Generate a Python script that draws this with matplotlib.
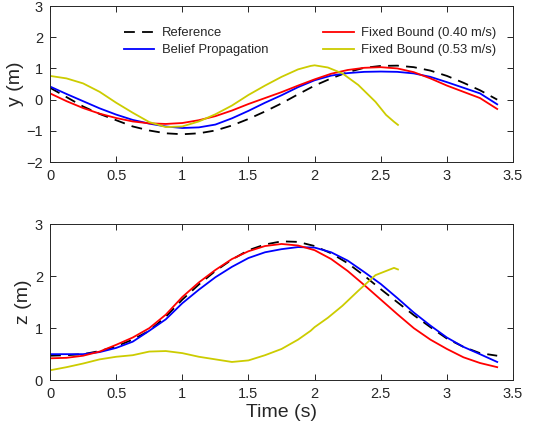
import matplotlib
matplotlib.use("Agg")
import matplotlib.pyplot as plt

plt.rcParams["font.family"] = ["Liberation Sans", "DejaVu Sans"]

# ── Data ──────────────────────────────────────────────────────────────────────
t_ref = [0, 0.125, 0.25, 0.375, 0.5, 0.625, 0.75, 0.875, 1.0, 1.125, 1.25, 1.375, 1.5, 1.625,
         1.75, 1.875, 2.0, 2.125, 2.25, 2.375, 2.5, 2.625, 2.75, 2.875, 3.0, 3.125, 3.25, 3.38]
y_ref = [0.38, 0.08, -0.22, -0.46, -0.66, -0.86, -0.99, -1.08, -1.11, -1.08, -0.99, -0.83, -0.62, -0.38,
         -0.12, 0.17, 0.45, 0.68, 0.88, 1.02, 1.08, 1.09, 1.04, 0.93, 0.76, 0.54, 0.3, 0.0]
z_ref = [0.47, 0.48, 0.5, 0.56, 0.65, 0.78, 0.95, 1.22, 1.55, 1.84, 2.1, 2.32, 2.5, 2.61,
         2.67, 2.66, 2.58, 2.44, 2.25, 2.01, 1.75, 1.5, 1.25, 1.02, 0.8, 0.64, 0.52, 0.47]

t_bp = t_ref
y_bp = [0.42, 0.18, -0.05, -0.28, -0.48, -0.65, -0.77, -0.86, -0.91, -0.89, -0.8, -0.6, -0.36, -0.1,
        0.14, 0.4, 0.62, 0.77, 0.85, 0.89, 0.9, 0.89, 0.84, 0.73, 0.56, 0.38, 0.2, -0.15]
z_bp = [0.5, 0.5, 0.5, 0.54, 0.62, 0.74, 0.95, 1.17, 1.48, 1.74, 1.98, 2.18, 2.35, 2.46,
        2.52, 2.56, 2.55, 2.46, 2.3, 2.08, 1.85, 1.58, 1.3, 1.05, 0.82, 0.64, 0.5, 0.35]

t_fb40 = t_ref
y_fb40 = [0.2, -0.05, -0.27, -0.45, -0.59, -0.7, -0.76, -0.78, -0.75, -0.66, -0.53, -0.35, -0.14, 0.05,
          0.24, 0.45, 0.65, 0.83, 0.95, 1.02, 1.04, 1.0, 0.88, 0.68, 0.45, 0.25, 0.05, -0.3]
z_fb40 = [0.42, 0.43, 0.47, 0.55, 0.68, 0.82, 1.0, 1.26, 1.6, 1.88, 2.12, 2.33, 2.48, 2.58,
          2.62, 2.59, 2.5, 2.33, 2.1, 1.83, 1.55, 1.27, 1.0, 0.78, 0.6, 0.44, 0.33, 0.25]

t_fb53 = [0, 0.125, 0.25, 0.375, 0.5, 0.625, 0.75, 0.875, 1.0, 1.125, 1.25, 1.375, 1.5, 1.625,
          1.75, 1.875, 1.97, 2.0, 2.1, 2.21, 2.33, 2.46, 2.54, 2.6, 2.63]
y_fb53 = [0.76, 0.68, 0.52, 0.25, -0.1, -0.42, -0.72, -0.88, -0.86, -0.7, -0.47, -0.19, 0.15, 0.45,
          0.73, 0.97, 1.08, 1.1, 1.03, 0.84, 0.47, -0.07, -0.49, -0.71, -0.81]
z_fb53 = [0.19, 0.25, 0.32, 0.4, 0.45, 0.48, 0.55, 0.56, 0.52, 0.45, 0.4, 0.35, 0.38, 0.48,
          0.6, 0.78, 0.95, 1.02, 1.2, 1.43, 1.72, 2.02, 2.1, 2.16, 2.13]

RED = "#ff0000"
BLUE = "#0000ff"
YEL = "#cccc00"
INK = "#262626"

fig = plt.figure(figsize=(5.35, 4.32), dpi=100)
ax1 = fig.add_axes([0.0935, 0.625, 0.8655, 0.361])
ax2 = fig.add_axes([0.0935, 0.120, 0.8655, 0.361])

def style_ax(ax):
    ax.set_xlim(0, 3.5)
    ax.set_xticks([0, 0.5, 1, 1.5, 2, 2.5, 3, 3.5])
    ax.set_xticklabels(["0", "0.5", "1", "1.5", "2", "2.5", "3", "3.5"])
    ax.tick_params(direction="in", top=True, right=True, labelsize=10.5,
                   length=4, width=0.7, colors=INK, pad=5)
    for sp in ax.spines.values():
        sp.set_color(INK)
        sp.set_linewidth(0.7)

# ── Top: y ────────────────────────────────────────────────────────────────────
ax1.plot(t_ref, y_ref, "k--", lw=1.3, dashes=(6, 4), label="Reference")
ax1.plot(t_bp, y_bp, color=BLUE, lw=1.3, label="Belief Propagation")
ax1.plot(t_fb40, y_fb40, color=RED, lw=1.3, label="Fixed Bound (0.40 m/s)")
ax1.plot(t_fb53, y_fb53, color=YEL, lw=1.3, label="Fixed Bound (0.53 m/s)")
style_ax(ax1)
ax1.set_ylim(-2, 3)
ax1.set_yticks([-2, -1, 0, 1, 2, 3])
ax1.set_ylabel("y (m)", fontsize=14, color=INK, labelpad=2)
leg = ax1.legend(ncol=2, frameon=False, fontsize=9.4, loc="upper left",
                 bbox_to_anchor=(0.135, 0.94), handlelength=2.3, columnspacing=4.2,
                 labelspacing=0.37, handletextpad=0.6)
for txt in leg.get_texts():
    txt.set_color(INK)

# ── Bottom: z ─────────────────────────────────────────────────────────────────
ax2.plot(t_ref, z_ref, "k--", lw=1.3, dashes=(6, 4))
ax2.plot(t_bp, z_bp, color=BLUE, lw=1.3)
ax2.plot(t_fb40, z_fb40, color=RED, lw=1.3)
ax2.plot(t_fb53, z_fb53, color=YEL, lw=1.3)
style_ax(ax2)
ax2.set_ylim(0, 3)
ax2.set_yticks([0, 1, 2, 3])
ax2.set_ylabel("z (m)", fontsize=14, color=INK, labelpad=2)
ax2.set_xlabel("Time (s)", fontsize=14, color=INK, labelpad=2)

fig.savefig("out.png", dpi=100)
